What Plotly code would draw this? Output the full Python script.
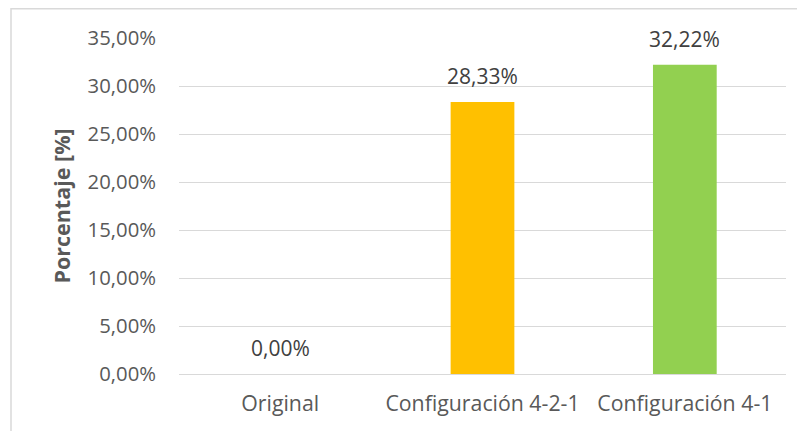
import plotly.graph_objects as go

categories = ["Original", "Configuración 4-2-1", "Configuración 4-1"]
values = [0.0, 0.2833, 0.3222]
colors = ["#4472C4", "#FFC000", "#92D050"]
y_title = "Porcentaje [%]"

# page body adds an 8px margin, so the figure is sized to fill the rest of the window
W, H = 797, 423
ml, mr, mt, mb = 171, 19, 30, 57
pw, ph = W - ml - mr, H - mt - mb

font_family = "Open Sans, Lato, sans-serif"

fig = go.Figure()
fig.add_trace(go.Bar(
    x=categories, y=values, marker=dict(color=colors, line=dict(width=0)),
    hoverinfo="skip",
))

for c, v in zip(categories, values):
    fig.add_annotation(
        x=c, y=v, xref="x", yref="y", text=f"{v*100:.2f}%".replace(".", ","),
        showarrow=False, yanchor="bottom", yshift=10,
        font=dict(family=font_family, size=21, color="#404040"),
    )

# chart border
fig.add_shape(
    type="rect", xref="paper", yref="paper",
    x0=(3 - ml) / pw, x1=(W + 5 - ml) / pw,
    y0=-(mb + 10) / ph, y1=(H - mb - 0.8) / ph,
    line=dict(color="#D9D9D9", width=1.5), fillcolor="rgba(0,0,0,0)", layer="below",
)

fig.update_layout(
    width=W, height=H,
    margin=dict(l=ml, r=mr, t=mt, b=mb, autoexpand=False),
    paper_bgcolor="white", plot_bgcolor="white",
    separators=",.",
    bargap=0.685,
    showlegend=False,
    font=dict(family=font_family, size=18, color="#595959"),
    xaxis=dict(
        showgrid=False, showline=False, zeroline=False, ticks="", automargin=False,
        tickfont=dict(size=21.3, color="#595959"), ticklabelstandoff=15,
    ),
    yaxis=dict(
        range=[0, 0.35], dtick=0.05, tickformat=".2%", automargin=False,
        showgrid=True, gridcolor="#D9D9D9", gridwidth=1.3,
        zeroline=True, zerolinecolor="#D9D9D9", zerolinewidth=1.3,
        showline=False, ticks="", ticklabelstandoff=22,
        tickfont=dict(size=20.3, color="#595959"),
        title=dict(text=f"<b>{y_title}</b>", font=dict(size=21.5, color="#595959"), standoff=11),
    ),
)

fig.write_html("out.html")
